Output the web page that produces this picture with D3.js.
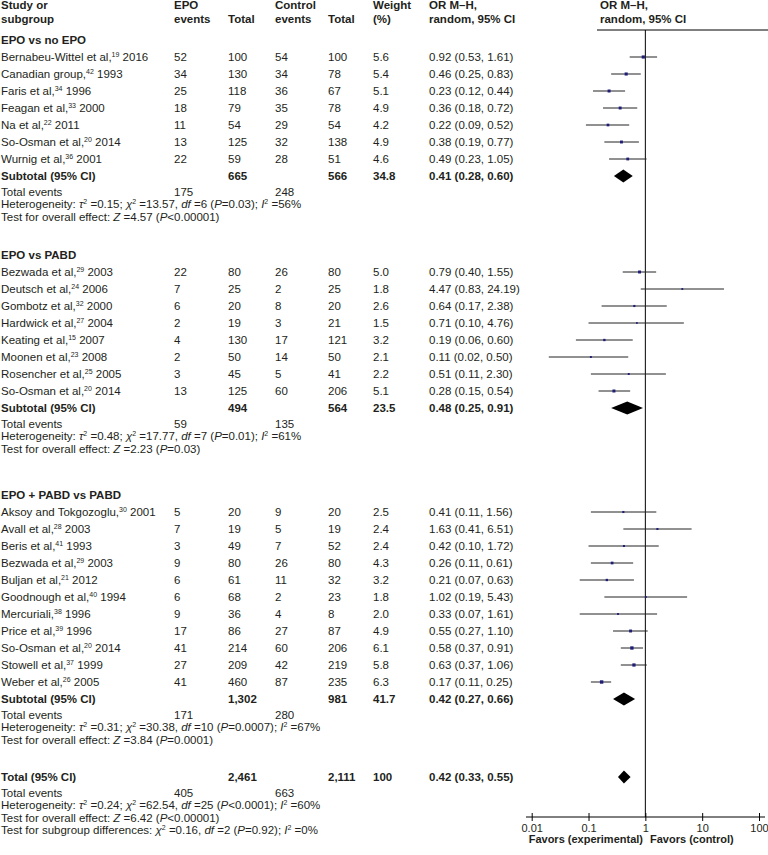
<!DOCTYPE html>
<html>
<head>
<meta charset="utf-8">
<script src="https://cdn.jsdelivr.net/npm/d3@7"></script>
<style>
  body { margin: 0; background: #fff; }
  text { font-family: "Liberation Sans", Arial, sans-serif; fill: #231f20; }
</style>
</head>
<body>
<svg></svg>
<script>
const sectionTitles = ["EPO vs no EPO", "EPO vs PABD", "EPO + PABD vs PABD"];

// [name, ref, year, epoEvents, epoTotal, ctlEvents, ctlTotal, weight, or, lo, hi]
const studiesNoEpo = [
  ["Bernabeu-Wittel et al,", "19", "2016", 52, 100, 54, 100, 5.6, 0.92, 0.53, 1.61],
  ["Canadian group,", "42", "1993", 34, 130, 34, 78, 5.4, 0.46, 0.25, 0.83],
  ["Faris et al,", "34", "1996", 25, 118, 36, 67, 5.1, 0.23, 0.12, 0.44],
  ["Feagan et al,", "33", "2000", 18, 79, 35, 78, 4.9, 0.36, 0.18, 0.72],
  ["Na et al,", "22", "2011", 11, 54, 29, 54, 4.2, 0.22, 0.09, 0.52],
  ["So-Osman et al,", "20", "2014", 13, 125, 32, 138, 4.9, 0.38, 0.19, 0.77],
  ["Wurnig et al,", "36", "2001", 22, 59, 28, 51, 4.6, 0.49, 0.23, 1.05]
];
const studiesPabd = [
  ["Bezwada et al,", "29", "2003", 22, 80, 26, 80, 5.0, 0.79, 0.40, 1.55],
  ["Deutsch et al,", "24", "2006", 7, 25, 2, 25, 1.8, 4.47, 0.83, 24.19],
  ["Gombotz et al,", "32", "2000", 6, 20, 8, 20, 2.6, 0.64, 0.17, 2.38],
  ["Hardwick et al,", "27", "2004", 2, 19, 3, 21, 1.5, 0.71, 0.10, 4.76],
  ["Keating et al,", "15", "2007", 4, 130, 17, 121, 3.2, 0.19, 0.06, 0.60],
  ["Moonen et al,", "23", "2008", 2, 50, 14, 50, 2.1, 0.11, 0.02, 0.50],
  ["Rosencher et al,", "25", "2005", 3, 45, 5, 41, 2.2, 0.51, 0.11, 2.30],
  ["So-Osman et al,", "20", "2014", 13, 125, 60, 206, 5.1, 0.28, 0.15, 0.54]
];
const studiesEpoPabd = [
  ["Aksoy and Tokgozoglu,", "30", "2001", 5, 20, 9, 20, 2.5, 0.41, 0.11, 1.56],
  ["Avall et al,", "28", "2003", 7, 19, 5, 19, 2.4, 1.63, 0.41, 6.51],
  ["Beris et al,", "41", "1993", 3, 49, 7, 52, 2.4, 0.42, 0.10, 1.72],
  ["Bezwada et al,", "29", "2003", 9, 80, 26, 80, 4.3, 0.26, 0.11, 0.61],
  ["Buljan et al,", "21", "2012", 6, 61, 11, 32, 3.2, 0.21, 0.07, 0.63],
  ["Goodnough et al,", "40", "1994", 6, 68, 2, 23, 1.8, 1.02, 0.19, 5.43],
  ["Mercuriali,", "38", "1996", 9, 36, 4, 8, 2.0, 0.33, 0.07, 1.61],
  ["Price et al,", "39", "1996", 17, 86, 27, 87, 4.9, 0.55, 0.27, 1.10],
  ["So-Osman et al,", "20", "2014", 41, 214, 60, 206, 6.1, 0.58, 0.37, 0.91],
  ["Stowell et al,", "37", "1999", 27, 209, 42, 219, 5.8, 0.63, 0.37, 1.06],
  ["Weber et al,", "26", "2005", 41, 460, 87, 235, 6.3, 0.17, 0.11, 0.25]
];

// [epoTotal, ctlTotal, weight, or, lo, hi, epoEvents, ctlEvents]
const subtotals = [
  [665, 566, 34.8, 0.41, 0.28, 0.60, 175, 248],
  [494, 564, 23.5, 0.48, 0.25, 0.91, 59, 135],
  [1302, 981, 41.7, 0.42, 0.27, 0.66, 171, 280]
];
const overall = [2461, 2111, 100, 0.42, 0.33, 0.55, 405, 663];

// [tau2, chi2, df, P, I2]
const heterogeneity = [
  ["0.15", "13.57", 6, "=0.03", 56],
  ["0.48", "17.77", 7, "=0.01", 61],
  ["0.31", "30.38", 10, "=0.0007", 67],
  ["0.24", "62.54", 25, "<0.0001", 60]
];
// [Z, P]
const overallEffect = [
  ["4.57", "<0.00001"],
  ["2.23", "=0.03"],
  ["3.84", "=0.0001"],
  ["6.42", "<0.00001"]
];
const subgroupDiff = ["0.16", 2, "=0.92", 0];
const axisTicks = [0.01, 0.1, 1, 10, 100];

const width = 768, height = 855;
const fs = 11.5;
const col = { study: 1, epoE: 174, epoN: 228, ctlE: 275, ctlN: 328, weight: 373, orText: 429, plot: 600 };
const markColor = "#1e1e78";

const svg = d3.select("svg")
  .attr("width", width)
  .attr("height", height)
  .attr("viewBox", [0, 0, width, height]);

const x = d3.scaleLog().domain([0.01, 100]).range([531.7, 759]);
const f2 = d3.format(".2f");
const fc = d3.format(",");
const orLabel = (o, l, h) => `${f2(o)} (${f2(l)}, ${f2(h)})`;

// text with rich segments: {t, i (italic), s (superscript)}
function rich(g, xx, yc, segs, opts = {}) {
  const t = g.append("text")
    .attr("x", xx)
    .attr("y", yc + fs * 0.35)
    .style("font-size", (opts.size || fs) + "px")
    .style("font-weight", opts.bold ? "bold" : null);
  let shifted = false;
  for (const s of segs) {
    const seg = typeof s === "string" ? { t: s } : s;
    const sp = t.append("tspan").text(seg.t);
    if (seg.i) sp.style("font-style", "italic");
    if (seg.s) {
      sp.style("font-size", "7px").attr("dy", shifted ? null : -4);
      shifted = true;
    } else if (shifted) {
      sp.attr("dy", 4);
      shifted = false;
    }
  }
  return t;
}
function plain(g, xx, yc, str, bold) {
  return rich(g, xx, yc, [String(str)], { bold });
}

const g = svg.append("g");

// header
[["Study or", "subgroup", col.study], ["EPO", "events", col.epoE], ["", "Total", col.epoN],
 ["Control", "events", col.ctlE], ["", "Total", col.ctlN], ["Weight", "(%)", col.weight],
 ["OR M\u2013H,", "random, 95% CI", col.orText], ["OR M\u2013H,", "random, 95% CI", col.plot]]
  .forEach(([a, b, xx]) => {
    if (a) plain(g, xx, 5, a, true);
    plain(g, xx, 19, b, true);
  });

svg.append("line")
  .attr("x1", 597).attr("x2", width).attr("y1", 30).attr("y2", 30)
  .attr("stroke", "#000").attr("stroke-width", 1);

// row layout
const sections = [studiesNoEpo, studiesPabd, studiesEpoPabd];
const titleY = [40, 255, 495];
const step = 17;
const studyRows = [];
const diamonds = [];

function statLines(yStart, k, withEvents, evE, evC) {
  let y = yStart;
  if (withEvents) {
    plain(g, col.study, y, "Total events");
    plain(g, col.epoE, y, evE);
    plain(g, col.ctlE, y, evC);
    y += 12.8;
  }
  const h = heterogeneity[k];
  rich(g, col.study, y, ["Heterogeneity: ", { t: "\u03c4", i: 1 }, { t: "2", s: 1 }, ` =${h[0]}; `,
    { t: "\u03c7", i: 1 }, { t: "2", s: 1 }, ` =${h[1]}, `, { t: "df", i: 1 }, ` =${h[2]} (`,
    { t: "P", i: 1 }, `${h[3]}); `, { t: "I", i: 1 }, { t: "2", s: 1 }, ` =${h[4]}%`]);
  y += 12.7;
  const z = overallEffect[k];
  rich(g, col.study, y, ["Test for overall effect: ", { t: "Z", i: 1 }, ` =${z[0]} (`, { t: "P", i: 1 }, `${z[1]})`]);
  return y;
}

sections.forEach((rows, k) => {
  plain(g, col.study, titleY[k], sectionTitles[k], true);
  let y = titleY[k] + step;
  rows.forEach(r => {
    rich(g, col.study, y, [r[0], { t: r[1], s: 1 }, " " + r[2]]);
    plain(g, col.epoE, y, r[3]);
    plain(g, col.epoN, y, r[4]);
    plain(g, col.ctlE, y, r[5]);
    plain(g, col.ctlN, y, r[6]);
    plain(g, col.weight, y, r[7].toFixed(1));
    plain(g, col.orText, y, orLabel(r[8], r[9], r[10]));
    studyRows.push({ y, w: r[7], or: r[8], lo: r[9], hi: r[10] });
    y += step;
  });
  const s = subtotals[k];
  plain(g, col.study, y, "Subtotal (95% CI)", true);
  plain(g, col.epoN, y, fc(s[0]), true);
  plain(g, col.ctlN, y, fc(s[1]), true);
  plain(g, col.weight, y, s[2].toFixed(1), true);
  plain(g, col.orText, y, orLabel(s[3], s[4], s[5]), true);
  diamonds.push({ y, or: s[3], lo: s[4], hi: s[5] });
  statLines(y + 15.5, k, true, s[6], s[7]);
});

// overall
const yTot = 777;
plain(g, col.study, yTot, "Total (95% CI)", true);
plain(g, col.epoN, yTot, fc(overall[0]), true);
plain(g, col.ctlN, yTot, fc(overall[1]), true);
plain(g, col.weight, yTot, overall[2], true);
plain(g, col.orText, yTot, orLabel(overall[3], overall[4], overall[5]), true);
diamonds.push({ y: yTot, or: overall[3], lo: overall[4], hi: overall[5] });
const yLast = statLines(yTot + 15.5, 3, true, overall[6], overall[7]);
rich(g, col.study, yLast + 12.2, ["Test for subgroup differences: ", { t: "\u03c7", i: 1 }, { t: "2", s: 1 },
  ` =${subgroupDiff[0]}, `, { t: "df", i: 1 }, ` =${subgroupDiff[1]} (`, { t: "P", i: 1 },
  `${subgroupDiff[2]}); `, { t: "I", i: 1 }, { t: "2", s: 1 }, ` =${subgroupDiff[3]}%`]);

// plot
const axisY = 817;
const plot = svg.append("g");

plot.append("line")
  .attr("x1", x(1)).attr("x2", x(1)).attr("y1", 30).attr("y2", axisY)
  .attr("stroke", "#000").attr("stroke-width", 1);

plot.append("g").selectAll("line")
  .data(studyRows)
  .join("line")
  .attr("x1", d => x(d.lo)).attr("x2", d => x(d.hi))
  .attr("y1", d => d.y).attr("y2", d => d.y)
  .attr("stroke", "#222").attr("stroke-width", 1);

plot.append("g").selectAll("rect")
  .data(studyRows)
  .join("rect")
  .attr("width", d => 1.2 + d.w * 0.35)
  .attr("height", d => 1.2 + d.w * 0.35)
  .attr("x", d => x(d.or) - (1.2 + d.w * 0.35) / 2)
  .attr("y", d => d.y - (1.2 + d.w * 0.35) / 2)
  .attr("fill", markColor);

plot.append("g").selectAll("path")
  .data(diamonds)
  .join("path")
  .attr("d", d => `M${x(d.lo)},${d.y}L${x(d.or)},${d.y - 6.5}L${x(d.hi)},${d.y}L${x(d.or)},${d.y + 6.5}Z`)
  .attr("fill", "#000");

const axis = d3.axisBottom(x)
  .tickValues(axisTicks)
  .tickFormat(d => String(d))
  .tickSize(4)
  .tickSizeOuter(0);

const ax = plot.append("g")
  .attr("transform", `translate(0,${axisY})`)
  .call(axis);
ax.select(".domain").attr("d", `M526,0H765`).attr("stroke", "#000");
ax.selectAll(".tick line").attr("y1", -4).attr("y2", 4).attr("stroke", "#000");
ax.selectAll(".tick text")
  .attr("y", 7)
  .attr("dy", "0.71em")
  .style("font-size", "11px")
  .style("font-family", "\"Liberation Sans\", Arial, sans-serif")
  .attr("fill", "#231f20");

plot.append("text")
  .attr("x", 643).attr("y", 843)
  .attr("text-anchor", "end")
  .style("font-size", "11px").style("font-weight", "bold")
  .text("Favors (experimental)");
plot.append("text")
  .attr("x", 650).attr("y", 843)
  .style("font-size", "11px").style("font-weight", "bold")
  .text("Favors (control)");
</script>
</body>
</html>
